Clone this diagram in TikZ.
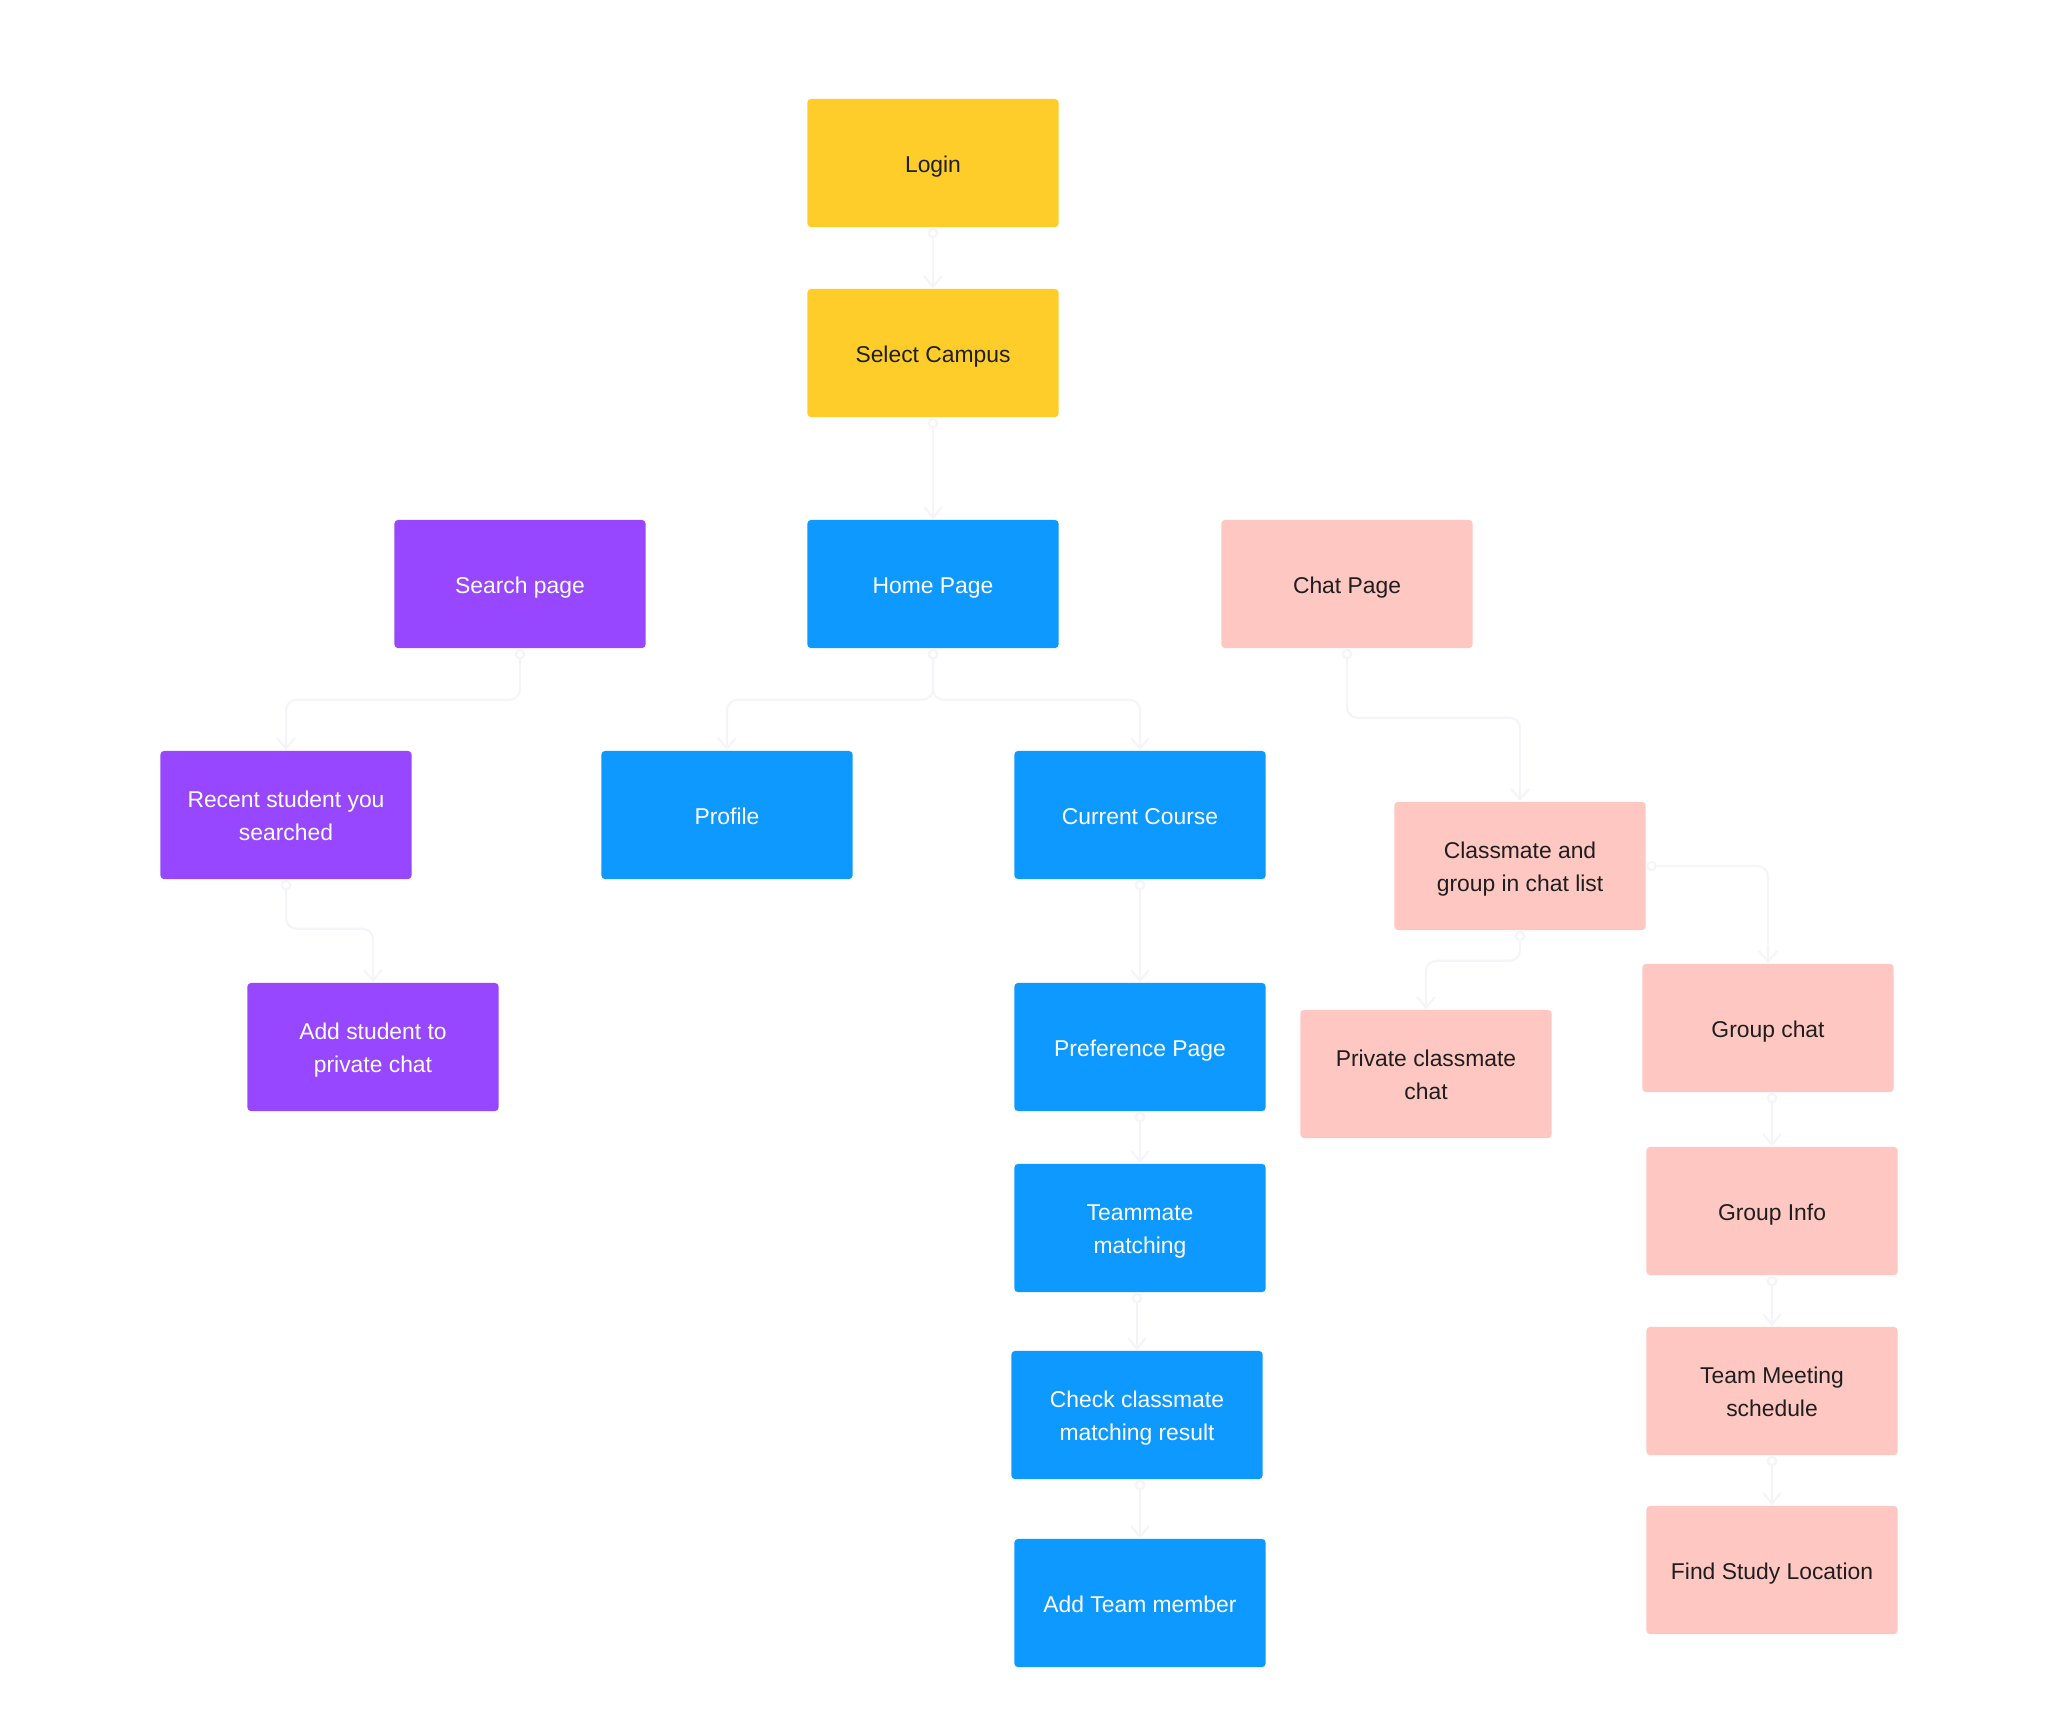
\documentclass[tikz,border=0pt]{standalone}
\usepackage{fontspec}
\setmainfont{Liberation Sans}
\usetikzlibrary{arrows.meta,positioning}

\definecolor{figyellow}{HTML}{FFCD29}
\definecolor{figblue}{HTML}{0D99FF}
\definecolor{figpurple}{HTML}{9747FF}
\definecolor{figpink}{HTML}{FFC7C2}
\definecolor{figtext}{HTML}{1E1E1E}
\definecolor{figline}{HTML}{F4F4F9}

\tikzset{
  box/.style={rectangle, rounded corners=1pt, minimum width=2.51cm, minimum height=1.28cm,
    inner sep=0pt, align=center, font=\fontsize{6.5}{9.3}\selectfont,
    text height=6.2pt, text depth=1pt},
  twolines/.style={text height=16.2pt, text depth=1.6pt},
  yellowbox/.style={box, fill=figyellow, text=figtext},
  bluebox/.style={box, fill=figblue, text=white},
  purplebox/.style={box, fill=figpurple, text=white},
  pinkbox/.style={box, fill=figpink, text=figtext},
  link/.style={draw=figline, line width=0.6pt, rounded corners=3pt,
    {Circle[length=3pt,fill=white]}-{Straight Barb[length=3pt,width=5pt]}}
}

\begin{document}
\begin{tikzpicture}[x=0.01cm, y=-0.01cm]
\useasboundingbox (0,0) rectangle (2048,1708);

% top of the flow
\node[yellowbox] (login) at (933,163) {Login};
\node[yellowbox] (campus) at (933,353) {Select Campus};

% main pages
\node[purplebox] (search) at (520,584) {Search page};
\node[bluebox] (home) at (933,584) {Home Page};
\node[pinkbox] (chat) at (1347,584) {Chat Page};

% second level
\node[purplebox, twolines] (recent) at (286,815) {Recent student you\\searched};
\node[bluebox] (profile) at (727,815) {Profile};
\node[bluebox] (course) at (1140,815) {Current Course};
\node[pinkbox, twolines] (chatlist) at (1520,866) {Classmate and\\group in chat list};

% search branch
\node[purplebox, twolines] (addstudent) at (373,1047) {Add student to\\private chat};

% course branch
\node[bluebox] (preference) at (1140,1047) {Preference Page};
\node[bluebox, twolines] (teammate) at (1140,1228) {Teammate\\matching};
\node[bluebox, twolines] (check) at (1137,1415) {Check classmate\\matching result};
\node[bluebox] (addteam) at (1140,1603) {Add Team member};

% chat branch
\node[pinkbox, twolines] (private) at (1426,1074) {Private classmate\\chat};
\node[pinkbox] (groupchat) at (1768,1028) {Group chat};
\node[pinkbox] (groupinfo) at (1772,1211) {Group Info};
\node[pinkbox, twolines] (meeting) at (1772,1391) {Team Meeting\\schedule};
\node[pinkbox] (location) at (1772,1570) {Find Study Location};

% connectors
\draw[link] (login.south) -- (campus.north);
\draw[link] (campus.south) -- (home.north);
\draw[link] (home.south) -- ++(0,51) -| (profile.north);
\draw[link] (home.south) -- ++(0,51) -| (course.north);
\draw[link] (search.south) -- ++(0,51) -| (recent.north);
\draw[link] (chat.south) -- ++(0,69) -| (chatlist.north);
\draw[link] (recent.south) -- ++(0,49) -| (addstudent.north);
\draw[link] (chatlist.east) -| (groupchat.north);
\draw[link] (chatlist.south) -- ++(0,30) -| (private.north);
\draw[link] (course.south) -- (preference.north);
\draw[link] (preference.south) -- (teammate.north);
\draw[link] (check.north |- teammate.south) -- (check.north);
\draw[link] (addteam.north |- check.south) -- (addteam.north);
\draw[link] (groupinfo.north |- groupchat.south) -- (groupinfo.north);
\draw[link] (groupinfo.south) -- (meeting.north);
\draw[link] (meeting.south) -- (location.north);
\end{tikzpicture}
\end{document}
